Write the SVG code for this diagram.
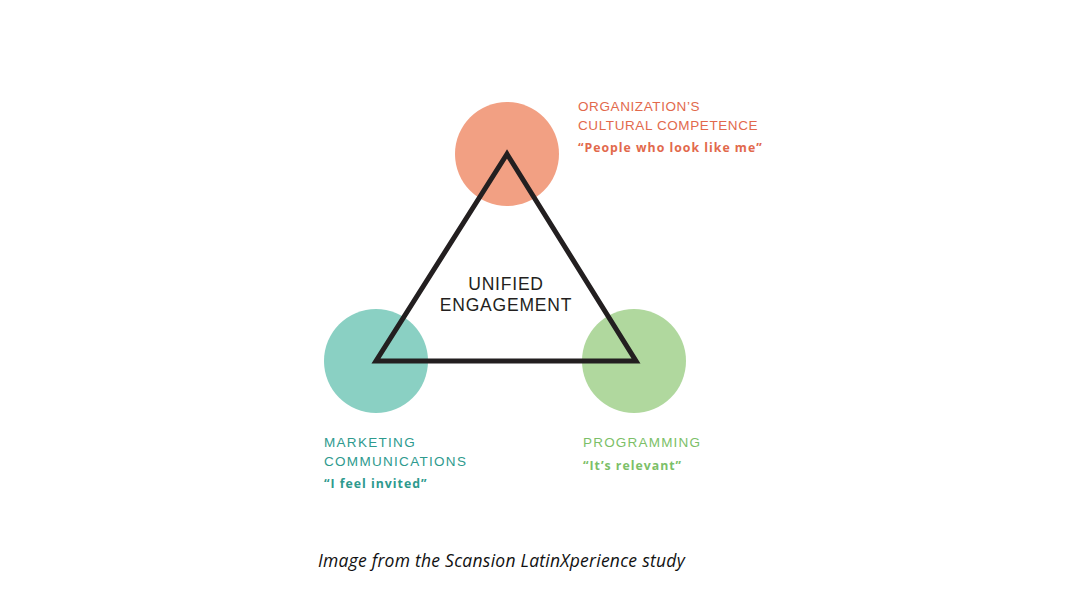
<svg xmlns="http://www.w3.org/2000/svg" width="1067" height="600" viewBox="0 0 1067 600">
<style>
.h{font-family:"Liberation Sans","Open Sans",sans-serif;font-size:13.5px;letter-spacing:0.6px}
.q{font-family:"Open Sans","Liberation Sans",sans-serif;font-size:12.3px;font-weight:bold;letter-spacing:1px}
.c{font-family:"Liberation Sans",sans-serif;font-size:17.5px;fill:#231f20;text-anchor:middle;letter-spacing:0.8px}
.cap{font-family:"Open Sans","Liberation Sans",sans-serif;font-size:17.5px;font-style:italic;fill:#111;letter-spacing:0.25px}
</style>
<rect width="1067" height="600" fill="#ffffff"/>
<g id="node-culture">
<circle cx="507" cy="154" r="52" fill="#f2a083"/>
<text class="h" x="578" y="111" fill="#e2694c">ORGANIZATION’S</text>
<text class="h" x="578" y="130" fill="#e2694c">CULTURAL COMPETENCE</text>
<text class="q" x="578" y="152" fill="#e2694c">“People who look like me”</text>
</g>
<g id="node-marketing">
<circle cx="376" cy="361" r="52" fill="#8ad0c3"/>
<text class="h" x="324" y="447" fill="#2e9a8e" style="letter-spacing:1.3px">MARKETING</text>
<text class="h" x="324" y="466" fill="#2e9a8e" style="letter-spacing:1.3px">COMMUNICATIONS</text>
<text class="q" x="324" y="488" fill="#2e9a8e">“I feel invited”</text>
</g>
<g id="node-programming">
<circle cx="634" cy="361" r="52" fill="#b0d89e"/>
<text class="h" x="583" y="447" fill="#7cbf68" style="letter-spacing:1.2px">PROGRAMMING</text>
<text class="q" x="583" y="470" fill="#7cbf68">“It’s relevant”</text>
</g>
<g id="connectors">
<polygon points="507,154 376,361 636,361" fill="none" stroke="#231f20" stroke-width="5" stroke-linejoin="miter"/>
</g>
<g id="node-center">
<text class="c" x="506" y="290">UNIFIED</text>
<text class="c" x="506" y="311">ENGAGEMENT</text>
</g>
<text class="cap" x="318" y="567">Image from the Scansion LatinXperience study</text>
</svg>
